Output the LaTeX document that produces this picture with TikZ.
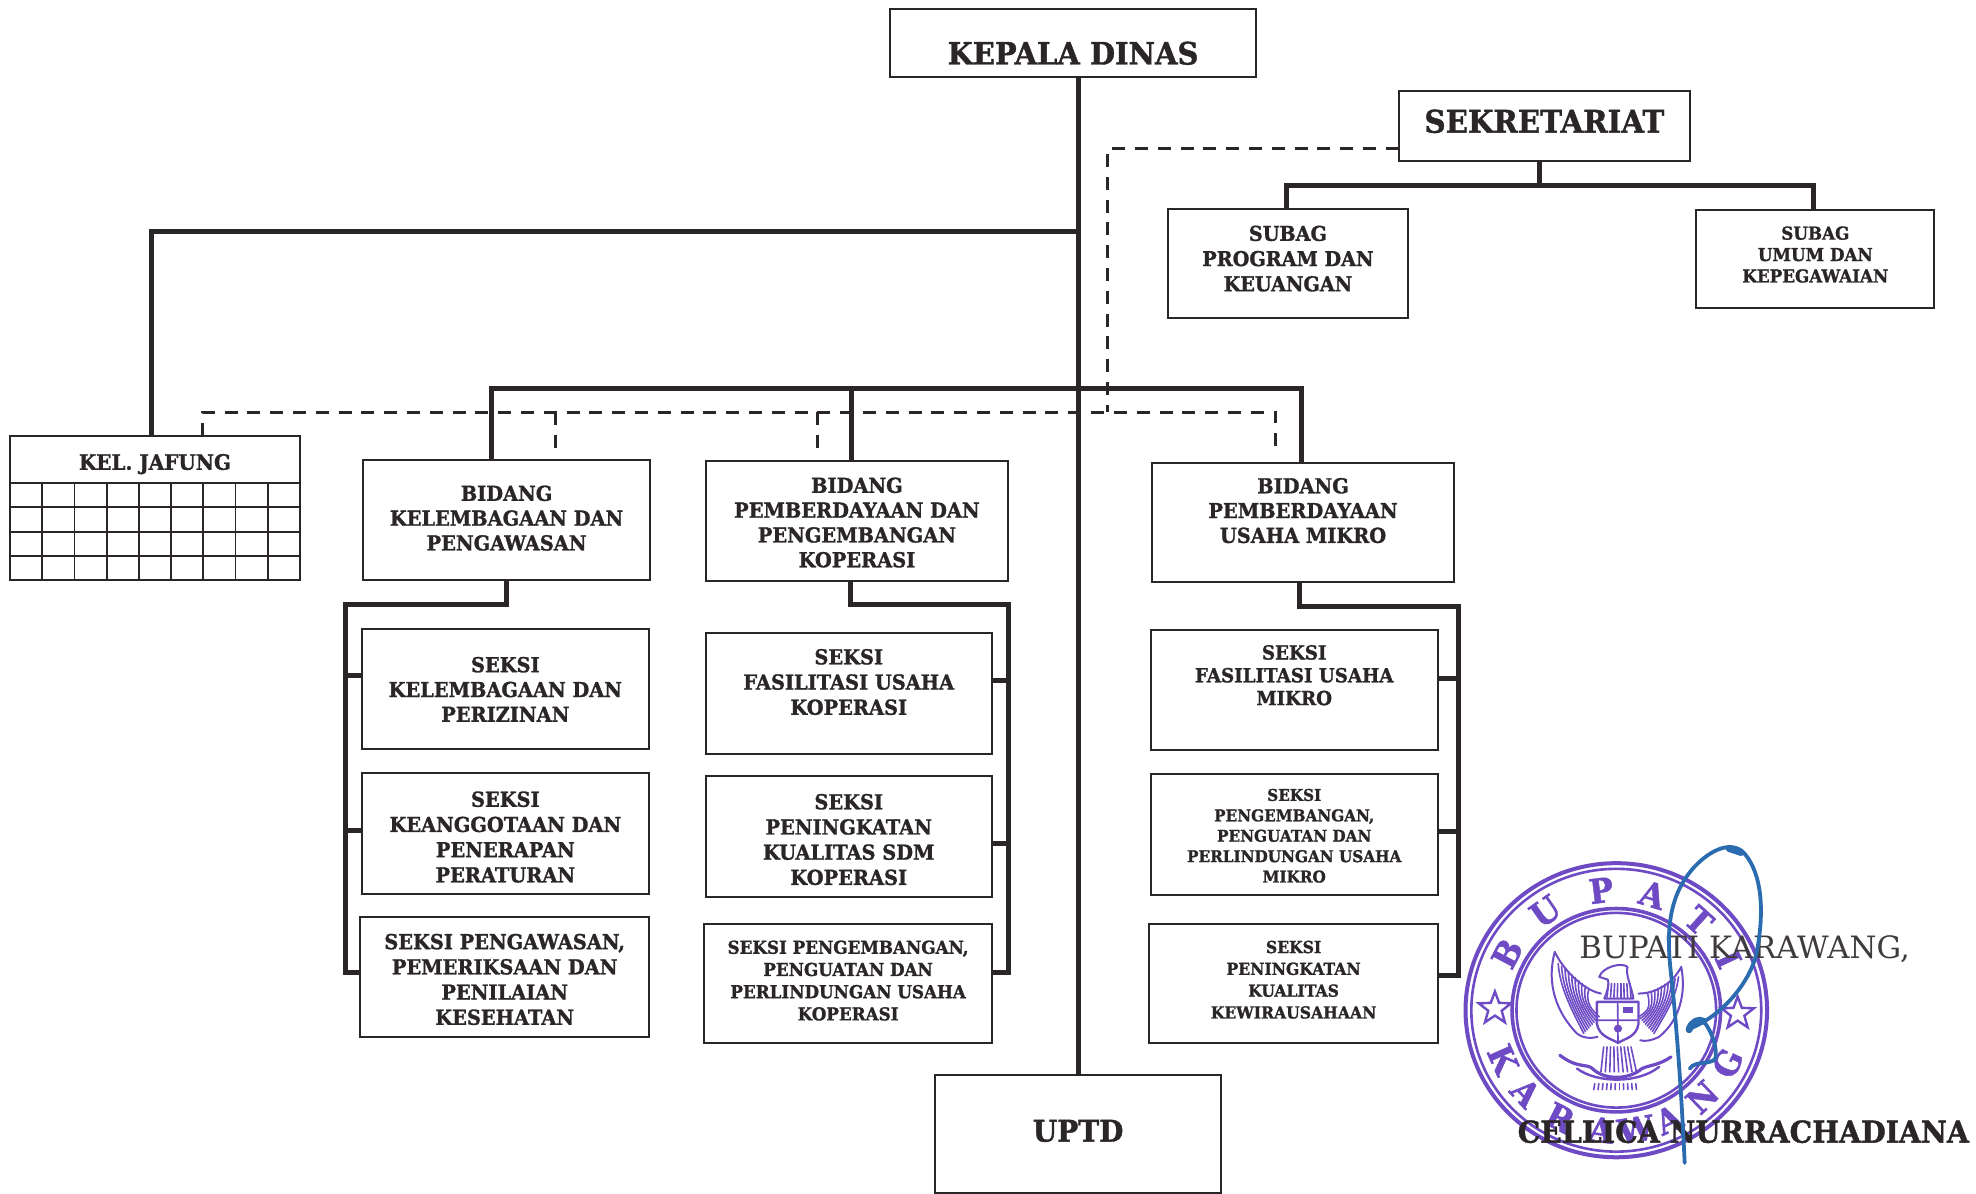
\documentclass[tikz,border=0pt]{standalone}
\usepackage{fontspec}
\setmainfont{DejaVu Serif}
\newfontfamily\capsfont[FakeStretch=0.94,BoldFeatures={FakeBold=1.3}]{DejaVu Serif}
\usetikzlibrary{shapes.geometric}
\definecolor{ink}{HTML}{2A2527}
\definecolor{stamp}{HTML}{6E4BC4}
\definecolor{signpen}{HTML}{2B6CB0}
\tikzset{
 x=0.63pt,y=-0.63pt,
 orgbox/.style={draw=ink,line width=1pt,rectangle,inner sep=0pt,outer sep=0pt,text=ink,fill=white},
 heavy/.style={draw=ink,line width=2.5pt,line join=miter},
 dashlink/.style={draw=ink,line width=1.5pt,dash pattern=on 6.5pt off 4.9pt},
 gridline/.style={draw=ink,line width=0.9pt},
 ring/.style={draw=stamp,line width=1.3pt},
 eagle/.style={draw=stamp,line width=0.8pt,line cap=round,line join=round},
 stampletter/.style={text=stamp,font=\capsfont\fontsize{17}{17}\selectfont\bfseries,inner sep=0pt},
 signline/.style={draw=signpen,line width=1.9pt,line cap=round,line join=round},
}
\newcommand\bx[9]{%
 \pgfmathsetmacro\bw{(#4-#2)*0.63}\pgfmathsetmacro\bh{(#5-#3)*0.63}%
 \pgfmathsetmacro\bcx{(#2+#4)/2}\pgfmathsetmacro\bcy{(#3+#5)/2}%
 \pgfmathsetmacro\br{(\bcy-#6)*0.63-#7*0.375}%
 \node[orgbox,minimum width=\bw pt,minimum height=\bh pt] (#1) at (\bcx,\bcy)
 {\capsfont\bfseries\fontsize{#7}{#8}\selectfont\raisebox{\br pt}[0pt][0pt]{\begin{tabular}{@{}c@{}}#9\end{tabular}}};}
\begin{document}
\begin{tikzpicture}
\useasboundingbox (0,0) rectangle (1568,947);
% stamp
\begin{scope}[shift={(1142.86,650.8)},x=0.1709pt,y=-0.1667pt]
 \draw[ring,line width=2pt] (515,570) circle (441);
 \draw[ring] (515,570) circle (424);
 \draw[ring,line width=1.8pt] (515,570) circle (305);
 \draw[ring] (515,570) circle (292);
 \foreach \a/\r/\c in {152/62/B,125/35/U,97/7/P,73/-17/A,48/-42/T,25/-65/I}
   \node[stampletter,rotate=\r] (s\c) at ({515+362*cos(\a)},{570-362*sin(\a)}) {\c};
 \foreach \a/\r/\c/\n in {204/-66/K/a,223/-47/A/b,243/-27/R/c,263/-7/A/d,279/9/W/e,295/25/A/f,314/44/N/g,334/64/G/h}
   \node[stampletter,rotate=\r] (k\n) at ({515+362*cos(\a)},{570-362*sin(\a)}) {\c};
 \node[star,star points=5,star point ratio=2.4,draw=stamp,line width=1.2pt,minimum size=68pt*0.25,inner sep=0pt] (starl) at (160,565) {};
 \node[star,star points=5,star point ratio=2.4,draw=stamp,line width=1.2pt,minimum size=68pt*0.25,inner sep=0pt] (starr) at (870,580) {};
 % eagle: left wing
 \draw[eagle,line width=1pt] (470,520) .. controls (420,510) and (360,450) .. (335,395) .. controls (315,470) and (325,560) .. (400,640) .. controls (420,655) and (440,655) .. (460,650);
 \foreach \t in {0,...,9}{
   \draw[eagle] ({345+\t*10},{430+\t*8.5}) .. controls ({350+\t*8.5},{500+\t*3.5}) and ({380+\t*5.6},{560}) .. ({420+\t*5},{640-\t*5.6});}
 % eagle: right wing
 \draw[eagle,line width=1pt] (580,520) .. controls (630,520) and (680,490) .. (705,440) .. controls (720,520) and (700,600) .. (640,650) .. controls (620,660) and (600,665) .. (585,660);
 \foreach \t in {0,...,9}{
   \draw[eagle] ({697-\t*10},{470+\t*5.6}) .. controls ({690-\t*8.5},{530+\t*2.8}) and ({665-\t*5.6},{570}) .. ({625-\t*5},{640-\t*5.6});}
 % head and neck
 \draw[eagle,line width=1pt] (465,470) .. controls (475,440) and (530,425) .. (548,440) .. controls (540,460) and (560,500) .. (565,535) -- (480,535) .. controls (490,510) and (495,490) .. (490,478) -- cycle;
 \foreach \t in {0,...,7} \draw[eagle] ({492+\t*9},490) -- ({488+\t*10},532);
 % shield
 \draw[eagle,line width=1.2pt] (458,545) -- (580,545) -- (580,610) .. controls (575,650) and (540,655) .. (520,668) .. controls (500,655) and (465,650) .. (458,610) -- cycle;
 \draw[eagle] (519,545) -- (520,668) (458,600) -- (580,600);
 \fill[stamp] (520,625) circle (12);
 \fill[stamp] (535,560) rectangle (565,578);
 % tail, legs, ribbon
 \foreach \t in {0,...,8} \draw[eagle] ({478+\t*10},680) -- ({470+\t*13},755);
 \draw[eagle,line width=1.6pt] (350,705) .. controls (400,745) and (430,730) .. (445,745) .. controls (480,780) and (550,780) .. (590,745) .. controls (610,735) and (640,735) .. (675,710);
 \draw[eagle,line width=1.2pt] (400,745) .. controls (460,790) and (580,790) .. (640,740);
 \foreach \t in {0,...,10} \draw[eagle] ({452+\t*12},790) -- ({449+\t*12.5},808);
\end{scope}
% main hierarchy boxes
\bx{kepala}{706}{7}{997}{61}{42}{15.4}{18}{KEPALA DINAS}
\bx{sekre}{1110}{72}{1341}{128}{96}{15.6}{18}{SEKRETARIAT}
\bx{subprog}{927}{166}{1117}{252}{205}{10.2}{12.6}{SUBAG\\PROGRAM DAN\\KEUANGAN}
\bx{subumum}{1346}{167}{1535}{244}{202}{8.9}{10.7}{SUBAG\\UMUM DAN\\KEPEGAWAIAN}
\bx{jafung}{8}{346}{238}{383}{367}{10.6}{12}{KEL. JAFUNG}
\bx{bid1}{288}{365}{516}{460}{411}{10.3}{12.4}{BIDANG\\KELEMBAGAAN DAN\\PENGAWASAN}
\bx{bid2}{560}{366}{800}{461}{414.5}{10.3}{12.4}{BIDANG\\PEMBERDAYAAN DAN\\PENGEMBANGAN\\KOPERASI}
\bx{bid3}{914}{367}{1154}{462}{405}{10.3}{12.4}{BIDANG\\PEMBERDAYAAN\\USAHA MIKRO}
\bx{sa}{287}{499}{515}{594}{547}{10.3}{12.4}{SEKSI\\KELEMBAGAAN DAN\\PERIZINAN}
\bx{sb}{287}{613}{515}{709}{664}{10.3}{12.6}{SEKSI\\KEANGGOTAAN DAN\\PENERAPAN\\PERATURAN}
\bx{sc}{286}{728}{515}{823}{777}{10.3}{12.6}{SEKSI PENGAWASAN,\\PEMERIKSAAN DAN\\PENILAIAN\\KESEHATAN}
\bx{sd}{560}{502}{787}{598}{541}{10.3}{12.6}{SEKSI\\FASILITASI USAHA\\KOPERASI}
\bx{se}{560}{616}{787}{712}{666}{10.3}{12.6}{SEKSI\\PENINGKATAN\\KUALITAS SDM\\KOPERASI}
\bx{sf}{559}{733}{787}{828}{778}{8.9}{11.1}{SEKSI PENGEMBANGAN,\\PENGUATAN DAN\\PERLINDUNGAN USAHA\\KOPERASI}
\bx{sg}{913}{500}{1141}{595}{536}{9.7}{11.4}{SEKSI\\FASILITASI USAHA\\MIKRO}
\bx{sh}{913}{614}{1141}{710}{663}{8.1}{10.2}{SEKSI\\PENGEMBANGAN,\\PENGUATAN DAN\\PERLINDUNGAN USAHA\\MIKRO}
\bx{si}{912}{733}{1141}{828}{777}{8.3}{10.9}{SEKSI\\PENINGKATAN\\KUALITAS\\KEWIRAUSAHAAN}
\bx{uptd}{742}{853}{969}{947}{897}{14.9}{18}{UPTD}
% jafung grid
\node[orgbox,fill=none,minimum width=144.9pt,minimum height=48.5pt] (jafgrid) at (123,421.5) {};
\foreach \c in {1,...,8} \draw[gridline] ({8+\c*25.55},383) -- ({8+\c*25.55},460);
\foreach \r in {402,422,441} \draw[gridline] (8,\r) -- (238,\r);
% junctions
\coordinate (xmain) at (855.5,0);
\coordinate (ybus) at (0,308);
\coordinate (yjaf) at (0,184);
\coordinate (ydash) at (0,327);
\coordinate (xj) at (120,0);
\coordinate (xb1) at (390,0);
\coordinate (xb2) at (676,0);
\coordinate (xb3) at (1033,0);
\coordinate (xdj) at (161,0);
\coordinate (xd1) at (441,0);
\coordinate (xd2) at (649,0);
\coordinate (xd3) at (1012,0);
\coordinate (xds) at (879,0);
\coordinate (ysd) at (0,118);
\coordinate (xsek) at (1222,0);
\coordinate (ysek) at (0,147);
\coordinate (xs1) at (1021,0);
\coordinate (xs2) at (1439,0);
\coordinate (d1end) at (441,357);
\coordinate (d2end) at (649,357);
\coordinate (d3end) at (1012,357);
% dashed links
\draw[dashlink] (xdj |- jafung.north) -- (xdj |- ydash) -- (xd3 |- ydash) -- (d3end);
\draw[dashlink] (xd1 |- ydash) -- (d1end);
\draw[dashlink] (xd2 |- ydash) -- (d2end);
\draw[dashlink] (sekre.west |- ysd) -- (xds |- ysd) -- (xds |- ydash);
% heavy connectors
\draw[heavy] (xmain |- kepala.south) -- (xmain |- uptd.north);
\draw[heavy] (xj |- jafung.north) -- (xj |- yjaf) -- (xmain |- yjaf);
\draw[heavy] (xb1 |- bid1.north) -- (xb1 |- ybus) -- (xb3 |- ybus) -- (xb3 |- bid3.north);
\draw[heavy] (xb2 |- ybus) -- (xb2 |- bid2.north);
\draw[heavy] (xsek |- sekre.south) -- (xsek |- ysek);
\draw[heavy] (xs1 |- subprog.north) -- (xs1 |- ysek) -- (xs2 |- ysek) -- (xs2 |- subumum.north);
% seksi trees
\coordinate (c1) at (274,0); \coordinate (c2) at (800,0); \coordinate (c3) at (1157,0);
\coordinate (t1) at (0,480); \coordinate (t2) at (0,480); \coordinate (t3) at (0,481);
\coordinate (xt1) at (402,0); \coordinate (xt2) at (675,0); \coordinate (xt3) at (1031,0);
\coordinate (ya1) at (0,536); \coordinate (ya2) at (0,659); \coordinate (ya3) at (0,772);
\coordinate (yb1) at (0,540); \coordinate (yb2) at (0,669); \coordinate (yb3) at (0,772);
\coordinate (yc1) at (0,538); \coordinate (yc2) at (0,660); \coordinate (yc3) at (0,774);
\draw[heavy] (xt1 |- bid1.south) -- (xt1 |- t1) -- (c1 |- t1) -- (c1 |- ya3) -- (sc.west |- ya3);
\draw[heavy] (c1 |- ya1) -- (sa.west |- ya1);
\draw[heavy] (c1 |- ya2) -- (sb.west |- ya2);
\draw[heavy] (xt2 |- bid2.south) -- (xt2 |- t2) -- (c2 |- t2) -- (c2 |- yb3) -- (sf.east |- yb3);
\draw[heavy] (c2 |- yb1) -- (sd.east |- yb1);
\draw[heavy] (c2 |- yb2) -- (se.east |- yb2);
\draw[heavy] (xt3 |- bid3.south) -- (xt3 |- t3) -- (c3 |- t3) -- (c3 |- yc3) -- (si.east |- yc3);
\draw[heavy] (c3 |- yc1) -- (sg.east |- yc1);
\draw[heavy] (c3 |- yc2) -- (sh.east |- yc2);
% signature block
\node[anchor=west,text=ink!90,font=\fontsize{15.4}{18}\selectfont,inner sep=0pt] (bupati) at (1253,753) {BUPATI KARAWANG,};
\node[anchor=west,text=ink,font=\capsfont\bfseries\fontsize{15.1}{18}\selectfont,inner sep=0pt] (cellica) at (1204,898) {CELLICA NURRACHADIANA};
\begin{scope}[shift={(1142.86,650.8)},x=0.1709pt,y=-0.1667pt]
 \draw[signline] (715,1028) .. controls (705,800) and (690,600) .. (675,460) .. controls (660,330) and (670,230) .. (735,150) .. controls (780,95) and (850,55) .. (890,100) .. controls (940,160) and (950,270) .. (925,400) .. controls (905,490) and (820,590) .. (730,625);
 \draw[signline,line width=3.5pt] (728,628) .. controls (735,605) and (755,595) .. (770,603);
 \draw[signline] (770,603) .. controls (800,640) and (810,690) .. (805,715) .. controls (790,735) and (745,720) .. (730,745);
 \draw[signline,line width=3.5pt] (845,85) -- (880,97);
\end{scope}
\end{tikzpicture}
\end{document}
